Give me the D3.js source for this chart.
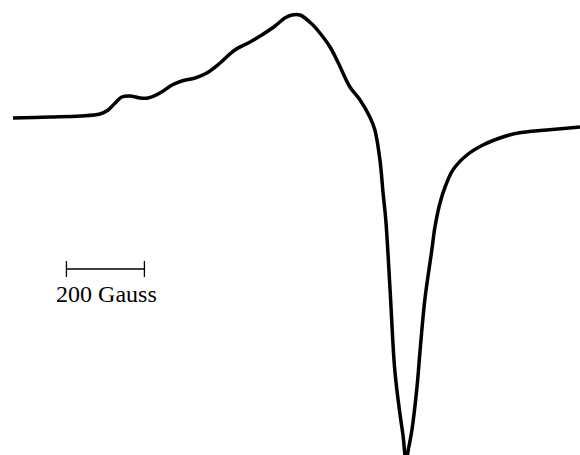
<!DOCTYPE html>
<html>
<head>
<meta charset="utf-8">
<script src="https://cdn.jsdelivr.net/npm/d3@7"></script>
<style>
  body { margin: 0; background: #fff; }
  svg { display: block; }
  .label { font-family: "Liberation Serif", "DejaVu Serif", serif; font-size: 24px; }
</style>
</head>
<body>
<script>
// field offset in Gauss (relative)
var field = [0, 95, 172, 223, 244, 262, 279, 300, 326, 346, 377, 408, 433, 467, 497,
             531, 569, 608, 638, 672, 697, 715, 736, 769, 787, 813, 833, 864, 890,
             915, 928, 941, 949, 956, 967, 979, 992, 1000, 1008, 1015, 1023, 1036, 1044,
             1056, 1074, 1082, 1095, 1108, 1128, 1164, 1205, 1256, 1295, 1369, 1454];
// derivative signal, arbitrary units (baseline = 0)
var signal = [0, 1, 2, 4, 8, 15, 21, 22, 20, 20, 25, 33, 37, 40, 45,
              55, 68, 76, 83, 92, 100, 103, 103, 93, 85, 71, 56, 31, 18,
              1, -12, -42, -75, -102, -172, -252, -295, -317, -342, -329, -312, -269, -232,
              -182, -132, -109, -85, -69, -52, -37, -27, -19, -15, -12, -9];
var scaleBarGauss = 200;
var scaleBarStart = 137;   // Gauss, left end of the scale bar
var scaleBarLabel = "200 Gauss";

var width = 580, height = 455;

var x = d3.scaleLinear().domain([0, 1454]).range([13, 580]);
var y = d3.scaleLinear().domain([-337, 118]).range([455, 0]);

var data = field.map(function (b, i) { return {b: b, v: signal[i]}; });

var svg = d3.select("body").append("svg")
    .attr("width", width)
    .attr("height", height);

var line = d3.line()
    .x(function (d) { return x(d.b); })
    .y(function (d) { return y(d.v); })
    .curve(d3.curveCatmullRom.alpha(0.5));

svg.append("path")
    .datum(data)
    .attr("fill", "none")
    .attr("stroke", "#000")
    .attr("stroke-width", 3.5)
    .attr("stroke-linejoin", "round")
    .attr("d", line);

// scale bar
var x0 = x(scaleBarStart), x1 = x(scaleBarStart + scaleBarGauss), yb = 269;
var bar = svg.append("g").attr("stroke", "#000").attr("stroke-width", 1.3);
bar.append("line").attr("x1", x0).attr("x2", x1).attr("y1", yb).attr("y2", yb);
bar.append("line").attr("x1", x0).attr("x2", x0).attr("y1", yb - 8).attr("y2", yb + 8);
bar.append("line").attr("x1", x1).attr("x2", x1).attr("y1", yb - 8).attr("y2", yb + 8);

svg.append("text")
    .attr("class", "label")
    .attr("x", (x0 + x1) / 2 + 1)
    .attr("y", 302)
    .attr("text-anchor", "middle")
    .text(scaleBarLabel);
</script>
</body>
</html>
